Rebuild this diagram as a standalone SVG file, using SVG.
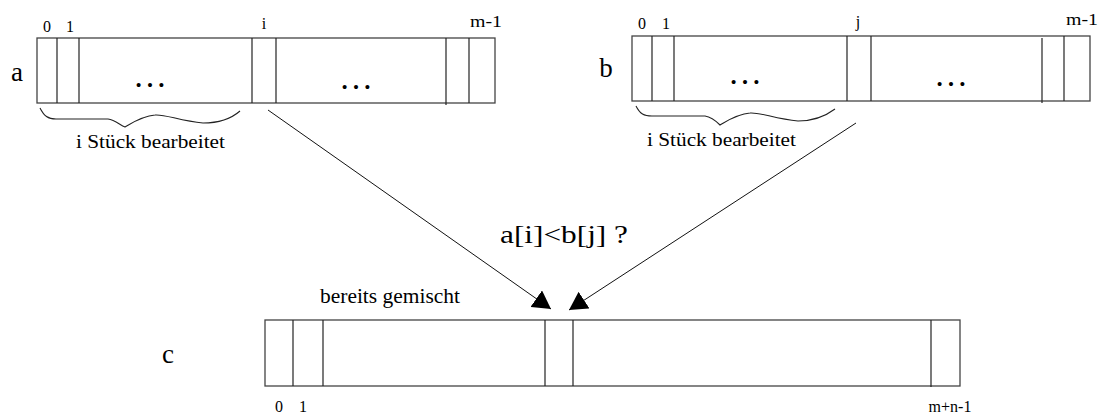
<svg xmlns="http://www.w3.org/2000/svg" width="1099" height="416" viewBox="0 0 1099 416" font-family="Liberation Serif, Times New Roman, serif">
<style>
text{fill:#000}
.box{fill:none;stroke:#444;stroke-width:1.3}
.sep{stroke:#222;stroke-width:1.2}
.idx{font-size:16px;text-anchor:middle}
.big{font-size:27px;text-anchor:middle}
.dots{font-size:34px;text-anchor:middle}
.cap{font-size:18px}
.brace{fill:none;stroke:#222;stroke-width:1.1}
.conn{stroke:#111;stroke-width:1;fill:none}
</style>
<defs>
<marker id="ah" viewBox="0 0 18 20" refX="18" refY="10" markerWidth="18" markerHeight="20" markerUnits="userSpaceOnUse" orient="auto">
<path d="M0,0 L18,10 L0,20 Z" fill="#000"/>
</marker>
</defs>
<g id="array-a">
<text class="big" x="17" y="81">a</text>
<rect class="box" x="37" y="38" width="458" height="65"/>
<line class="sep" x1="57" y1="38" x2="57" y2="103"/>
<line class="sep" x1="79" y1="38" x2="79" y2="103"/>
<line class="sep" x1="252" y1="38" x2="252" y2="103"/>
<line class="sep" x1="276" y1="38" x2="276" y2="103"/>
<line class="sep" x1="446" y1="38" x2="446" y2="105"/>
<line class="sep" x1="469" y1="38" x2="469" y2="103"/>
<text class="idx" x="47" y="32">0</text>
<text class="idx" x="70" y="32">1</text>
<text class="idx" x="264" y="29">i</text>
<text class="idx" x="486" y="27" textLength="32" lengthAdjust="spacingAndGlyphs">m-1</text>
<text class="dots" x="150" y="87">…</text>
<text class="dots" x="356" y="89">…</text>
<path class="brace" d="M40,108 C44,116 48,119 56,119 L108,119 C115,120 120,125 125,127 C132,123 142,116 155,115 C165,114 180,121 203,123 C220,123 232,118 240,111"/>
<text class="cap" x="76" y="148" textLength="149" lengthAdjust="spacingAndGlyphs">i Stück bearbeitet</text>
</g>
<g id="array-b">
<text class="big" x="606" y="77">b</text>
<rect class="box" x="632" y="36" width="458" height="65"/>
<line class="sep" x1="652" y1="36" x2="652" y2="101"/>
<line class="sep" x1="674" y1="36" x2="674" y2="101"/>
<line class="sep" x1="847" y1="36" x2="847" y2="101"/>
<line class="sep" x1="871" y1="36" x2="871" y2="101"/>
<line class="sep" x1="1042" y1="38" x2="1042" y2="103"/>
<line class="sep" x1="1064" y1="36" x2="1064" y2="101"/>
<text class="idx" x="642" y="29">0</text>
<text class="idx" x="666" y="29">1</text>
<text class="idx" x="858" y="27">j</text>
<text class="idx" x="1082" y="25" textLength="32" lengthAdjust="spacingAndGlyphs">m-1</text>
<text class="dots" x="745" y="84">…</text>
<text class="dots" x="951" y="86">…</text>
<path class="brace" d="M636,106 C640,114 644,116 652,116 L705,116 C712,117 717,122 720,125 C727,121 737,114 750,113 C760,112 775,119 798,121 C815,121 827,115 835,109"/>
<text class="cap" x="647" y="146" textLength="149" lengthAdjust="spacingAndGlyphs">i Stück bearbeitet</text>
</g>
<g id="array-c">
<text class="big" x="168" y="363">c</text>
<rect class="box" x="265" y="320" width="695" height="66"/>
<line class="sep" x1="293" y1="320" x2="293" y2="386"/>
<line class="sep" x1="323" y1="320" x2="323" y2="386"/>
<line class="sep" x1="545" y1="320" x2="545" y2="386"/>
<line class="sep" x1="573" y1="320" x2="573" y2="386"/>
<line class="sep" x1="931" y1="320" x2="931" y2="387"/>
<text class="idx" x="279" y="412">0</text>
<text class="idx" x="303" y="412">1</text>
<text class="idx" x="950" y="412">m+n-1</text>
<text x="320" y="303" font-size="20" textLength="140" lengthAdjust="spacingAndGlyphs">bereits gemischt</text>
</g>
<g id="connectors">
<line class="conn" x1="268" y1="110" x2="551" y2="309" marker-end="url(#ah)"/>
<line class="conn" x1="856" y1="123" x2="569" y2="310" marker-end="url(#ah)"/>
</g>
<g id="condition">
<text x="500" y="243" font-size="26" textLength="128" lengthAdjust="spacingAndGlyphs">a[i]&lt;b[j] ?</text>
</g>
</svg>
